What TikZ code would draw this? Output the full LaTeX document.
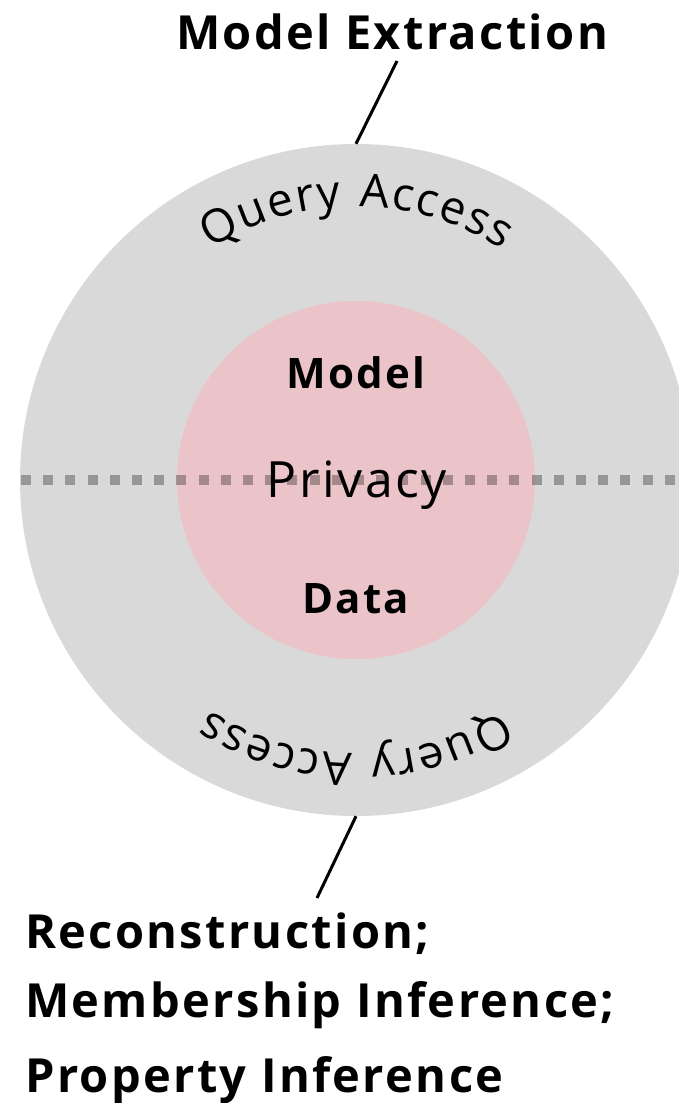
\documentclass[tikz,border=0pt]{standalone}
\usepackage{fontspec}
\setmainfont{Open Sans}[LetterSpace=5]
\usetikzlibrary{decorations.text}
\definecolor{ringgray}{HTML}{D9D9D9}
\definecolor{corepink}{HTML}{EBC4C9}
\begin{document}
\begin{tikzpicture}[x=1pt,y=1pt,
  lbl/.style={inner sep=0pt, anchor=base, font=\fontsize{47}{56}\selectfont\bfseries},
  lblw/.style={inner sep=0pt, anchor=base west, font=\fontsize{47}{56}\selectfont\bfseries},
  corelbl/.style={inner sep=0pt, anchor=base, font=\fontsize{42}{50}\selectfont\bfseries},
  leader/.style={line width=3pt, black},
  divider/.style={black, opacity=0.3, line width=10pt, dash pattern=on 10pt off 12.2pt},
  arctext/.style={decorate, decoration={text along path, text align=center,
      text={|\fontsize{46}{46}\selectfont\kern1.7pt|Query Access}}}]
\useasboundingbox (0,0) rectangle (679,-1103);
\clip (0,0) rectangle (679,-1103);
\node[circle, fill=ringgray, minimum size=672pt, inner sep=0pt] (outer) at (356,-480) {};
\node[circle, fill=corepink, minimum size=358pt, inner sep=0pt] (core) at (356,-480) {};
\coordinate (dl) at (21,-480);
\coordinate (dr) at (679,-480);
\draw[divider] (dl) -- (dr);
\path[arctext] (outer.center) ++(180:273) arc[start angle=180, end angle=0, radius=273];
\path[arctext] (outer.center) ++(0:273) arc[start angle=0, end angle=-180, radius=273];
\node[corelbl] (model) at (356,-388) {Model};
\node[inner sep=0pt, anchor=base, font=\fontsize{50}{56}\selectfont] (privacy) at (357,-497) {Privacy};
\node[corelbl] (data) at (356,-613) {Data};
\node[lbl] (extract) at (392,-49) {Model Extraction};
\coordinate (topend) at (397,-61);
\draw[leader] (topend) -- (outer.north);
\node[lblw] (recon) at (25,-948) {Reconstruction;};
\node[lblw] (member) at (25,-1017) {Membership Inference;};
\node[lblw] (prop) at (25,-1092) {Property Inference};
\coordinate (botend) at (317,-898);
\draw[leader] (outer.south) -- (botend);
\end{tikzpicture}
\end{document}
